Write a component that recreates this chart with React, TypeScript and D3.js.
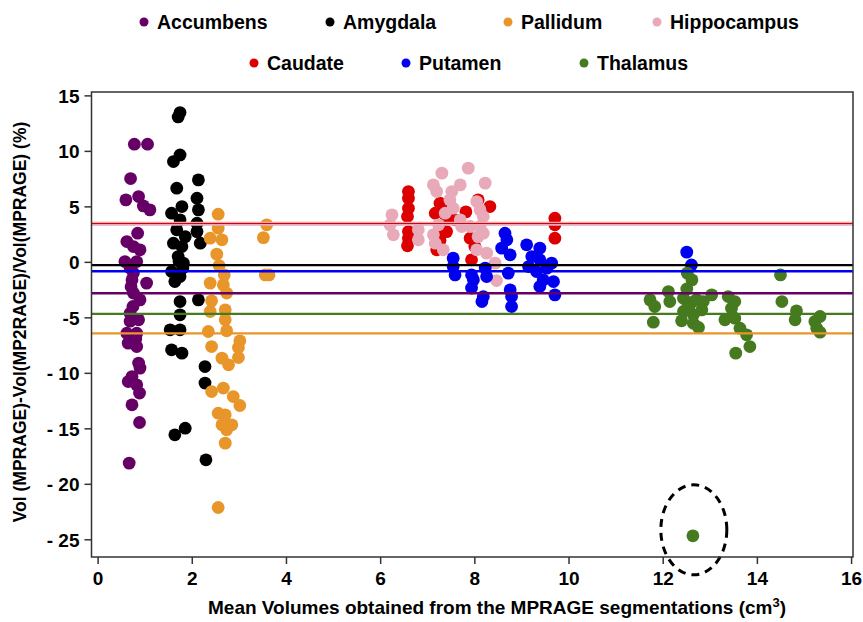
import React, { useRef, useEffect } from 'react';
import * as d3 from 'd3';

// [mean volume (cm3), difference (%)]
const accumbens = [
    [0.77, 10.65], [1.05, 10.65], [0.69, 7.55], [0.59, 5.63], [0.86, 5.93], [0.96, 5.09], [1.1, 4.73],
    [0.84, 2.63], [0.61, 1.87], [0.75, 1.42], [0.89, 1.13], [0.57, 0.07], [0.82, 0.07], [0.68, -0.5],
    [0.75, -0.97], [0.72, -1.58], [1.03, -1.87], [0.7, -2.2], [0.75, -2.77], [0.89, -3.38], [0.74, -3.98],
    [0.68, -4.58], [0.86, -5.18], [0.68, -5.3], [0.61, -6.38], [0.82, -6.38], [0.8, -6.9], [0.64, -7.28],
    [0.82, -7.59], [0.86, -9.08], [0.89, -9.53], [0.72, -10.29], [0.64, -10.74], [0.82, -11.04],
    [0.88, -11.78], [0.72, -12.84], [0.88, -14.43], [0.66, -18.09],
];
const amygdala = [
    [1.7, 13.1], [1.74, 13.5], [1.74, 9.68], [1.6, 9.08], [2.13, 7.43], [1.67, 6.68], [2.1, 5.78],
    [1.78, 5.03], [2.13, 4.73], [1.56, 4.43], [1.74, 3.83], [2.1, 3.53], [1.67, 2.93], [2.1, 2.77],
    [1.85, 2.32], [1.6, 1.73], [1.78, 1.42], [2.17, 1.73], [1.7, 0.52], [1.72, 0.1], [1.81, -0.07],
    [1.8, -0.5], [1.56, -0.83], [1.74, -1.28], [1.63, -1.73], [2.13, -3.38], [1.74, -3.53], [1.74, -4.73],
    [1.53, -6.08], [1.74, -6.08], [1.56, -7.88], [1.78, -8.18], [2.27, -9.39], [2.27, -10.88],
    [1.85, -14.94], [1.63, -15.54], [2.29, -17.79],
];
const pallidum = [
    [2.55, 4.34], [2.55, 3.08], [3.58, 3.38], [3.51, 2.23], [2.38, 2.18], [2.63, 2.03], [2.52, 0.74],
    [2.57, -0.29], [2.68, -1.13], [3.55, -1.13], [3.63, -1.13], [2.38, -1.87], [2.66, -2.03], [2.73, -2.77],
    [2.41, -3.47], [2.38, -4.43], [2.7, -4.28], [2.7, -5.18], [2.73, -6.17], [2.34, -6.23], [3.01, -7.07],
    [2.98, -7.68], [2.41, -7.59], [2.98, -8.58], [2.63, -8.63], [2.77, -9.23], [2.41, -11.64], [2.66, -11.33],
    [2.87, -12.09], [3.01, -12.9], [2.55, -13.59], [2.7, -13.74], [2.63, -14.64], [2.84, -14.64],
    [2.73, -15.09], [2.7, -16.29], [2.55, -22.09],
];
const caudate = [
    [6.59, 6.38], [6.59, 5.78], [6.59, 4.88], [6.57, 4.13], [6.59, 2.77], [6.59, 2.18], [6.57, 1.49],
    [7.26, 5.33], [7.33, 4.88], [7.16, 4.43], [7.4, 3.98], [7.26, 3.08], [7.4, 2.77], [7.26, 2.0],
    [7.19, 1.13], [7.58, 3.83], [7.81, 4.55], [8.07, 5.63], [8.32, 5.03], [7.9, 2.18], [8.0, 1.42],
    [7.93, 0.23], [9.7, 3.98], [9.7, 3.38], [9.7, 2.18],
];
const hippocampus = [
    [7.86, 8.49], [7.3, 8.04], [7.12, 6.98], [7.19, 6.38], [7.69, 6.98], [7.51, 6.38], [8.22, 7.14],
    [6.24, 4.28], [6.2, 3.38], [6.27, 2.48], [6.8, 2.93], [6.8, 2.03], [7.37, 4.43], [7.23, 3.38],
    [7.12, 2.48], [7.16, 1.73], [7.47, 5.63], [7.54, 4.88], [7.72, 3.23], [7.9, 3.23], [8.04, 5.48],
    [8.11, 4.73], [8.18, 4.13], [8.07, 2.32], [8.18, 2.63], [7.33, 1.13], [8.04, 1.13], [8.25, 0.83],
    [7.69, 3.83], [8.11, 3.23], [8.43, -0.07], [8.46, -1.64],
];
const putamen = [
    [8.64, 2.63], [8.68, 2.03], [8.57, 1.28], [8.75, 0.68], [7.54, 0.38], [7.54, -0.38], [7.58, -1.13],
    [7.93, -1.13], [7.97, -1.58], [7.93, -2.32], [8.18, -3.08], [8.15, -3.53], [8.22, -0.52], [8.25, -1.28],
    [8.71, -0.97], [8.75, -2.48], [8.78, -3.08], [8.78, -3.98], [9.1, 1.58], [9.38, 1.28], [9.21, 0.52],
    [9.38, 0.23], [9.14, -0.38], [9.31, -0.83], [9.53, -0.52], [9.63, -0.07], [9.45, -1.58], [9.67, -1.73],
    [9.7, -2.93], [9.38, -2.18], [12.5, 0.92], [12.6, -0.23],
];
const thalamus = [
    [12.51, -0.97], [12.61, -1.58], [12.5, -2.4], [12.11, -2.63], [12.14, -3.53], [11.72, -3.38],
    [11.82, -3.98], [11.79, -5.39], [12.43, -3.23], [12.53, -3.83], [12.6, -3.6], [12.55, -4.0],
    [12.71, -3.38], [12.85, -3.53], [13.03, -2.93], [12.43, -4.43], [12.64, -4.73], [12.82, -4.28],
    [12.39, -5.27], [12.64, -5.48], [12.75, -5.87], [13.38, -3.08], [13.52, -3.53], [13.45, -4.13],
    [13.31, -5.18], [13.52, -5.03], [13.63, -5.93], [13.77, -6.53], [13.84, -7.59], [13.54, -8.18],
    [14.49, -1.13], [14.52, -3.53], [14.83, -4.37], [14.8, -5.18], [15.33, -4.88], [15.22, -5.33],
    [15.26, -5.93], [15.33, -6.29], [12.63, -24.64],
];

const regionNames = ['Accumbens', 'Amygdala', 'Pallidum', 'Hippocampus', 'Caudate', 'Putamen', 'Thalamus'];
const regionColors = ['#660066', '#000000', '#E8962A', '#E8A9B9', '#DD0000', '#0000EE', '#457A1F'];
const regionPoints = [accumbens, amygdala, pallidum, hippocampus, caudate, putamen, thalamus];
// mean difference per region (horizontal lines)
const meanDiffs = [-2.78, -0.25, -6.4, 3.47, 3.5, -0.8, -4.64];
const drawOrder = [0, 1, 2, 4, 3, 5, 6];
const lineOrder = [3, 4, 1, 5, 0, 6, 2];

const xTicks = [0, 2, 4, 6, 8, 10, 12, 14, 16];
const yTicks = [15, 10, 5, 0, -5, -10, -15, -20, -25];
const yTickLabels = ['15', '10', '5', '0', '-5', '- 10', '- 15', '- 20', '- 25'];
const outlierCenter = [12.65, -24.1];

export default function App() {
    const svgRef = useRef(null);
    const width = 863;
    const height = 622;

    useEffect(() => {
        const svg = d3.select(svgRef.current);
        svg.selectAll('*').remove();

        const font = "'Liberation Sans', Arial, sans-serif";
        const x = d3.scaleLinear().domain([-0.14, 16.03]).range([91.5, 853]);
        const y = d3.scaleLinear().domain([-26.55, 15.35]).range([557, 92]);

        // points
        drawOrder.forEach(k => {
            svg.append('g')
                .selectAll('circle')
                .data(regionPoints[k])
                .enter()
                .append('circle')
                .attr('cx', d => x(d[0]))
                .attr('cy', d => y(d[1]))
                .attr('r', 6.4)
                .attr('fill', regionColors[k]);
        });

        // mean lines
        lineOrder.forEach(k => {
            svg.append('line')
                .attr('x1', x.range()[0])
                .attr('x2', x.range()[1])
                .attr('y1', y(meanDiffs[k]))
                .attr('y2', y(meanDiffs[k]))
                .attr('stroke', regionColors[k])
                .attr('stroke-width', k === 3 ? 4 : (k === 4 ? 1.2 : 2.4));
        });

        // dashed ellipse round the outlier
        svg.append('ellipse')
            .attr('cx', x(outlierCenter[0]))
            .attr('cy', y(outlierCenter[1]))
            .attr('rx', 33)
            .attr('ry', 45)
            .attr('fill', 'none')
            .attr('stroke', '#000')
            .attr('stroke-width', 3)
            .attr('stroke-dasharray', '8,6');

        // frame
        svg.append('rect')
            .attr('x', x.range()[0])
            .attr('y', y.range()[1])
            .attr('width', x.range()[1] - x.range()[0])
            .attr('height', y.range()[0] - y.range()[1])
            .attr('fill', 'none')
            .attr('stroke', '#333')
            .attr('stroke-width', 1.5);

        // x axis
        const gx = svg.append('g').attr('transform', `translate(0,${y.range()[0]})`);
        gx.selectAll('line')
            .data(xTicks)
            .enter()
            .append('line')
            .attr('x1', d => x(d)).attr('x2', d => x(d))
            .attr('y1', 0).attr('y2', 7)
            .attr('stroke', '#333').attr('stroke-width', 1.5);
        gx.selectAll('text')
            .data(xTicks)
            .enter()
            .append('text')
            .attr('x', d => x(d))
            .attr('y', 28)
            .attr('text-anchor', 'middle')
            .attr('font-family', font)
            .attr('font-weight', 'bold')
            .attr('font-size', 19)
            .text(d => d);

        // y axis
        const gy = svg.append('g').attr('transform', `translate(${x.range()[0]},0)`);
        gy.selectAll('line')
            .data(yTicks)
            .enter()
            .append('line')
            .attr('x1', -7).attr('x2', 0)
            .attr('y1', d => y(d)).attr('y2', d => y(d))
            .attr('stroke', '#333').attr('stroke-width', 1.5);
        gy.selectAll('text')
            .data(yTicks)
            .enter()
            .append('text')
            .attr('x', -12)
            .attr('y', d => y(d))
            .attr('dy', '0.36em')
            .attr('text-anchor', 'end')
            .attr('font-family', font)
            .attr('font-weight', 'bold')
            .attr('font-size', 19)
            .text((_, i) => yTickLabels[i]);

        // axis titles
        const xt = svg.append('text')
            .attr('x', 497)
            .attr('y', 614)
            .attr('text-anchor', 'middle')
            .attr('font-family', font)
            .attr('font-weight', 'bold')
            .attr('font-size', 19);
        xt.append('tspan').text('Mean Volumes obtained from the MPRAGE segmentations (cm');
        xt.append('tspan').attr('dy', -7).attr('font-size', 13).text('3');
        xt.append('tspan').attr('dy', 7).text(')');

        svg.append('text')
            .attr('transform', 'translate(26,322) rotate(-90)')
            .attr('text-anchor', 'middle')
            .attr('font-family', font)
            .attr('font-weight', 'bold')
            .attr('font-size', 17.5)
            .text('Vol (MPRAGE)-Vol(MP2RAGE)/Vol(MPRAGE) (%)');

        // legend: two rows
        const legendRows = [[0, 1, 2, 3], [4, 5, 6]];
        const legendX = [[144, 330, 508, 657], [254, 406, 584]];
        const legendY = [22, 63];
        legendRows.forEach((row, r) => {
            row.forEach((k, j) => {
                const g = svg.append('g')
                    .attr('transform', `translate(${legendX[r][j]},${legendY[r]})`);
                g.append('circle').attr('r', 4.5).attr('fill', regionColors[k]);
                g.append('text')
                    .attr('x', 13)
                    .attr('dy', '0.36em')
                    .attr('font-family', font)
                    .attr('font-weight', 'bold')
                    .attr('font-size', 19.5)
                    .text(regionNames[k]);
            });
        });
    }, []);

    return (
        <svg ref={svgRef} width={width} height={height}
            style={{ position: 'absolute', left: 0, top: 0, background: '#fff' }}></svg>
    );
}
